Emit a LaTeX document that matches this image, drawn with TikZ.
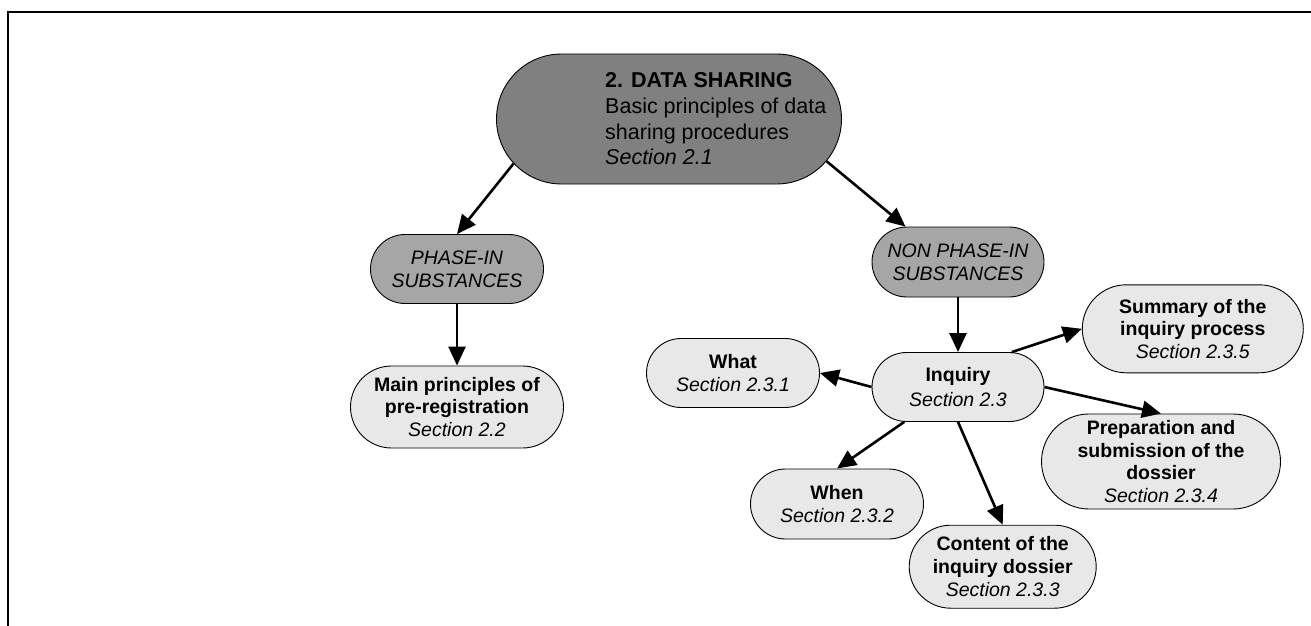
\documentclass[tikz,border=0pt]{standalone}
\usepackage{fontspec}
\setmainfont{Liberation Sans}
\usetikzlibrary{shapes.misc,arrows.meta}
\definecolor{darkfill}{RGB}{128,128,128}
\definecolor{midfill}{RGB}{166,166,166}
\definecolor{lightfill}{RGB}{232,232,232}
\begin{document}
\begin{tikzpicture}[x=1pt,y=-1pt,
  box/.style={rounded rectangle, draw=black, line width=0.9pt, inner sep=0pt, align=center,
              font=\fontsize{19.5}{22.7}\selectfont},
  lightbox/.style={box, fill=lightfill},
  midbox/.style={box, fill=midfill},
  arr/.style={line width=2.6pt, -{Triangle[length=19pt,width=17pt]}},
  framestyle/.style={line width=2pt}]
\useasboundingbox (0,0) rectangle (1311,626);
\draw[framestyle] (7.5,626) -- (7.5,12) -- (1311,12);

\node[box, fill=darkfill, minimum width=345pt, minimum height=130pt] (top) at (669,119) {};
\node[anchor=west, align=left, inner sep=0pt, font=\fontsize{21.5}{25.7}\selectfont] (toptxt) at (605,119)
  {\textbf{2. DATA SHARING}\\Basic principles of data\\sharing procedures\\\textit{Section 2.1}};

\node[midbox, minimum width=173pt, minimum height=69pt] (phase) at (457,269)
  {\textit{PHASE-IN}\\\textit{SUBSTANCES}};
\node[lightbox, minimum width=213pt, minimum height=82pt] (main) at (457,407)
  {\textbf{Main principles of}\\\textbf{pre-registration}\\\textit{Section 2.2}};
\node[midbox, minimum width=172pt, minimum height=70pt] (non) at (958,262)
  {\textit{NON PHASE-IN}\\\textit{SUBSTANCES}};
\node[lightbox, minimum width=172pt, minimum height=69pt] (inquiry) at (958,387)
  {\textbf{Inquiry}\\[2pt]\textit{Section 2.3}};
\node[lightbox, minimum width=173pt, minimum height=69pt] (what) at (733,373)
  {\textbf{What}\\\textit{Section 2.3.1}};
\node[lightbox, minimum width=173pt, minimum height=70pt] (when) at (837,504)
  {\textbf{When}\\\textit{Section 2.3.2}};
\node[lightbox, minimum width=187pt, minimum height=83pt] (content) at (1002.7,566.7)
  {\textbf{Content of the}\\\textbf{inquiry dossier}\\\textit{Section 2.3.3}};
\node[lightbox, minimum width=239pt, minimum height=95pt] (prep) at (1161,461.5)
  {\textbf{Preparation and}\\\textbf{submission of the}\\\textbf{dossier}\\\textit{Section 2.3.4}};
\node[lightbox, minimum width=221pt, minimum height=88pt] (summary) at (1192.8,328.8)
  {\textbf{Summary of the}\\\textbf{inquiry process}\\\textit{Section 2.3.5}};

\draw[arr] (top.196) -- (phase.north);
\draw[arr] (top.-15) -- (non.146);
\draw[arr] (phase.south) -- (main.north);
\draw[arr] (non.south) -- (inquiry.north);
\draw[arr] (inquiry.west) -- (what.east);
\draw[arr] (inquiry.213.7) -- (when.north);
\draw[arr] (inquiry.south) -- (content.north);
\draw[arr] (inquiry.33.8) -- (summary.west);
\draw[arr] (inquiry.east) -- (prep.north);
\end{tikzpicture}
\end{document}
